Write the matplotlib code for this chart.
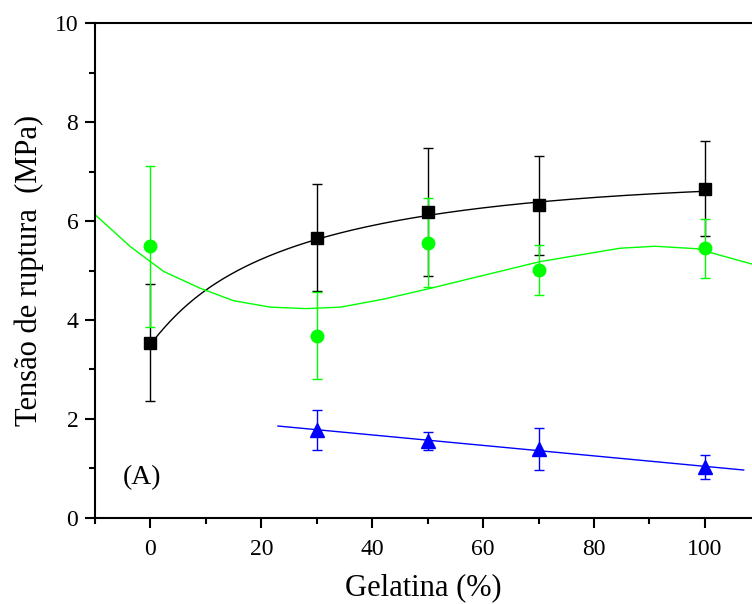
import numpy as np
import matplotlib
matplotlib.use("Agg")
import matplotlib.pyplot as plt
from matplotlib.ticker import MultipleLocator

plt.rcParams['font.family'] = ['Liberation Serif', 'DejaVu Serif']

# data
x_black = [0, 30, 50, 70, 100]
y_black = [3.54, 5.66, 6.18, 6.32, 6.65]
e_black = [1.18, 1.08, 1.30, 1.00, 0.96]

x_green = [0, 30, 50, 70, 100]
y_green = [5.49, 3.68, 5.56, 5.01, 5.45]
e_green = [1.63, 0.88, 0.90, 0.50, 0.60]

x_blue = [30, 50, 70, 100]
y_blue = [1.78, 1.56, 1.39, 1.03]
e_blue = [0.40, 0.18, 0.42, 0.24]

# fitted curves
x_black_fit = [0, 0.9, 5.4, 9.9, 16.2, 23.4, 30, 36.1, 43, 50.2, 60.2, 70, 81, 90, 100]
y_black_fit = [3.54, 3.61, 4.15, 4.60, 5.04, 5.41, 5.63, 5.82, 5.98, 6.12, 6.24, 6.36, 6.44, 6.55, 6.65]

x_green_fit = [-10, -3.6, 2.4, 9, 15, 21.6, 28, 34.3, 42, 50.5, 60, 70.3, 84.7, 91, 98.5, 108.5]
y_green_fit = [6.13, 5.48, 4.98, 4.64, 4.39, 4.26, 4.23, 4.26, 4.42, 4.64, 4.90, 5.18, 5.45, 5.49, 5.44, 5.13]

fig = plt.figure(figsize=(7.52, 6.04), dpi=100)
ax = fig.add_axes([0.1263, 0.1424, 0.8737, 0.8195])

# smooth the read black curve with a least-squares fit in log space
xbf = np.array(x_black_fit, float)
cb = np.polyfit(np.log(xbf + 5), y_black_fit, 3)
xx = np.linspace(0, 100, 300)
ax.plot(xx, np.polyval(cb, np.log(xx + 5)), color='black', lw=1, zorder=2)

ax.plot(x_green_fit, y_green_fit, color='#00ff00', lw=1, zorder=2)

cbl = np.polyfit(x_blue, y_blue, 1)
xx = np.linspace(23, 107, 50)
ax.plot(xx, np.polyval(cbl, xx), color='#0000ff', lw=1, zorder=2)

ax.errorbar(x_black, y_black, yerr=e_black, fmt='s', color='black', ms=8,
            ecolor='black', elinewidth=1, capsize=3.4, capthick=1, zorder=3)
ax.errorbar(x_green, y_green, yerr=e_green, fmt='o', color='#00ff00', ms=9,
            ecolor='#00ff00', elinewidth=1, capsize=3.4, capthick=1, zorder=3)
ax.errorbar(x_blue, y_blue, yerr=e_blue, fmt='^', color='#0000ff', ms=10,
            ecolor='#0000ff', elinewidth=1, capsize=3.4, capthick=1, zorder=3)

ax.set_xlim(-10, 108.5)
ax.set_ylim(0, 10)
ax.xaxis.set_major_locator(MultipleLocator(20))
ax.xaxis.set_minor_locator(MultipleLocator(10))
ax.yaxis.set_major_locator(MultipleLocator(2))
ax.yaxis.set_minor_locator(MultipleLocator(1))
ax.spines['right'].set_visible(False)
for s in ['left', 'bottom', 'top']:
    ax.spines[s].set_linewidth(1.5)
ax.tick_params(which='major', direction='out', length=7, width=1.5, labelsize=17, pad=5)
ax.tick_params(axis='x', which='major', pad=8)
ax.tick_params(which='minor', direction='out', length=4, width=1.5)
ax.tick_params(top=False, right=False, which='both')

ax.set_xlabel('Gelatina (%)', fontsize=22, labelpad=10)
ax.set_ylabel('Tensão de ruptura  (MPa)', fontsize=22, labelpad=8)
ax.text(-5, 0.82, '(A)', fontsize=20, ha='left', va='center')

fig.savefig('out.png', dpi=100)
